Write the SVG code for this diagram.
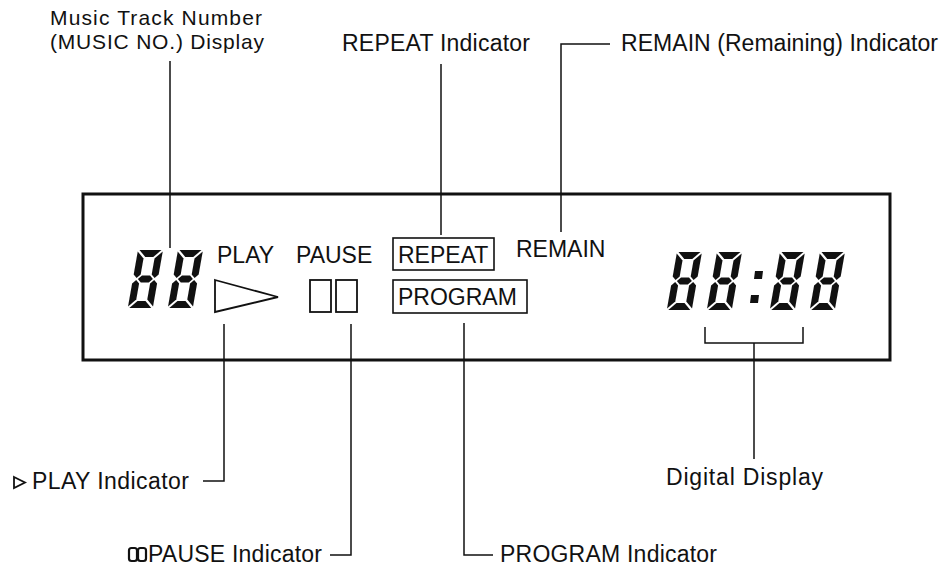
<svg xmlns="http://www.w3.org/2000/svg" xmlns:xlink="http://www.w3.org/1999/xlink" width="947" height="567" viewBox="0 0 947 567">
<style>
.lbl{font-family:"Liberation Sans",Arial,Helvetica,sans-serif;font-size:23px;fill:#111}
.lbl2{font-family:"Liberation Sans",Arial,Helvetica,sans-serif;font-size:21px;fill:#111}
.in{font-family:"Liberation Sans",Arial,Helvetica,sans-serif;font-size:23px;fill:#111}
.ln{fill:none;stroke:#111;stroke-width:1.5}
.box{fill:none;stroke:#111;stroke-width:1.6}
.seg{fill:#111}
</style>
<defs>
<g id="d8">
<g transform="skewX(-10)">
<polygon class="seg" points="1.5,0 23.5,0 16.5,7 8.5,7"/>
<polygon class="seg" points="0,1.5 7,8.5 7,24.5 3.5,28 0,24.5"/>
<polygon class="seg" points="25,1.5 25,24.5 21.5,28 18,24.5 18,8.5"/>
<polygon class="seg" points="5,29 8.5,25.5 16.5,25.5 20,29 16.5,32.5 8.5,32.5"/>
<polygon class="seg" points="0,33.5 3.5,30 7,33.5 7,49.5 0,56.5"/>
<polygon class="seg" points="25,33.5 25,56.5 18,49.5 18,33.5 21.5,30"/>
<polygon class="seg" points="1.5,58 8.5,51 16.5,51 23.5,58"/>
</g>
</g>
</defs>
<rect width="947" height="567" fill="#fff"/>

<g id="panel">
<rect x="83" y="194" width="807" height="166" fill="none" stroke="#111" stroke-width="3"/>
</g>

<g id="music-no">
<use xlink:href="#d8" transform="translate(138,250)"/>
<use xlink:href="#d8" transform="translate(178,250)"/>
</g>

<g id="play">
<text class="in" x="217" y="263">PLAY</text>
<polygon points="215,280 278,297 215,312" fill="none" stroke="#111" stroke-width="1.8"/>
</g>

<g id="pause">
<text class="in" x="296" y="263">PAUSE</text>
<rect x="310" y="280" width="21" height="32" fill="none" stroke="#111" stroke-width="1.8"/>
<rect x="336" y="280" width="21" height="32" fill="none" stroke="#111" stroke-width="1.8"/>
</g>

<g id="repeat">
<rect class="box" x="393" y="238" width="101" height="32"/>
<text class="in" x="398" y="263">REPEAT</text>
</g>

<g id="program">
<rect class="box" x="393" y="280" width="134" height="33"/>
<text class="in" x="398" y="305">PROGRAM</text>
</g>

<g id="remain">
<text class="in" x="516" y="257">REMAIN</text>
</g>

<g id="digital">
<use xlink:href="#d8" transform="translate(677,252)"/>
<use xlink:href="#d8" transform="translate(717,252)"/>
<polygon class="seg" points="755,271 763,271 762,279 754,279"/>
<polygon class="seg" points="751,295 759,295 758,303 750,303"/>
<use xlink:href="#d8" transform="translate(780,252)"/>
<use xlink:href="#d8" transform="translate(820,252)"/>
</g>

<g id="labels">
<text class="lbl2" x="50" y="25" textLength="212" lengthAdjust="spacing">Music Track Number</text>
<text class="lbl2" x="50" y="49" textLength="214" lengthAdjust="spacing">(MUSIC NO.) Display</text>
<text class="lbl" x="342" y="51" textLength="188" lengthAdjust="spacing">REPEAT Indicator</text>
<text class="lbl" x="621" y="51" textLength="317" lengthAdjust="spacing">REMAIN (Remaining) Indicator</text>
<polygon points="14,477 25,482.5 14,488" fill="none" stroke="#111" stroke-width="1.8"/>
<text class="lbl" x="32" y="489" textLength="157" lengthAdjust="spacing">PLAY Indicator</text>
<rect x="129" y="548" width="8" height="13" rx="2.5" fill="none" stroke="#111" stroke-width="2.2"/>
<rect x="138" y="548" width="8" height="13" rx="2.5" fill="none" stroke="#111" stroke-width="2.2"/>
<text class="lbl" x="148" y="562" textLength="174" lengthAdjust="spacing">PAUSE Indicator</text>
<text class="lbl" x="500" y="562" textLength="217" lengthAdjust="spacing">PROGRAM Indicator</text>
<text class="lbl" x="666" y="485" textLength="157" lengthAdjust="spacing">Digital Display</text>
</g>

<g id="connectors">
<line class="ln" x1="170" y1="61" x2="170" y2="248"/>
<line class="ln" x1="441" y1="64" x2="441" y2="235"/>
<polyline class="ln" points="610,44 561,44 561,232"/>
<polyline class="ln" points="203,481 224,481 224,324"/>
<polyline class="ln" points="330,555 351,555 351,324"/>
<polyline class="ln" points="493,555 464,555 464,323"/>
<polyline class="ln" points="705,327 705,343 803,343 803,327"/>
<line class="ln" x1="754" y1="343" x2="754" y2="459"/>
</g>
</svg>
